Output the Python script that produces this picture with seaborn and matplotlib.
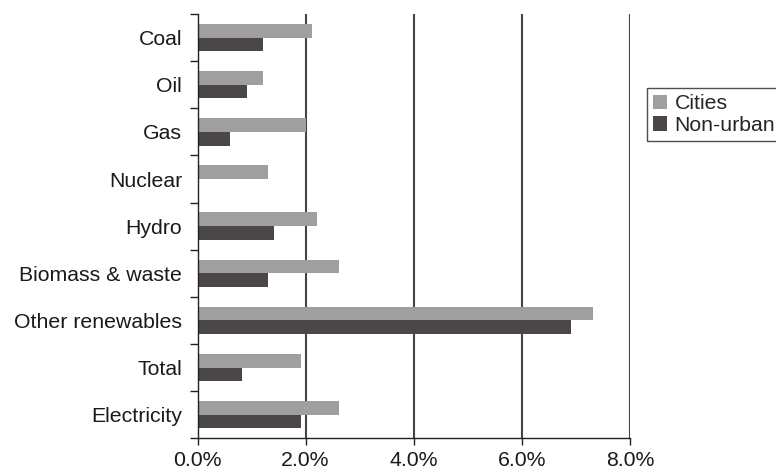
import matplotlib
matplotlib.use("Agg")
import matplotlib.pyplot as plt
import matplotlib.ticker as mticker
import seaborn as sns
import pandas as pd
import numpy as np

# Annual growth rates by energy source
categories = ["Coal", "Oil", "Gas", "Nuclear", "Hydro", "Biomass & waste",
              "Other renewables", "Total", "Electricity"]
cities = [2.12, 1.21, 2.00, 1.30, 2.21, 2.62, 7.31, 1.91, 2.62]
non_urban = [1.21, 0.92, 0.60, 0.0, 1.42, 1.30, 6.90, 0.82, 1.91]
series_names = ["Cities", "Non-urban"]
x_ticks = [0, 2, 4, 6, 8]

df = pd.DataFrame({
    "category": categories * 2,
    "growth": cities + non_urban,
    "series": [series_names[0]] * len(categories) + [series_names[1]] * len(categories),
})

sns.set_theme(style="white")
plt.rcParams["font.family"] = ["Liberation Sans", "DejaVu Sans"]

fig = plt.figure(figsize=(7.76, 4.71), dpi=100)
ax = fig.add_axes([197.5 / 776, 1 - 438.3 / 471, (630 - 197.5) / 776, (438.3 - 14) / 471])

palette = {"Cities": "#9f9f9f", "Non-urban": "#4b464a"}
sns.barplot(data=df, x="growth", y="category", hue="series", order=categories,
            hue_order=series_names, palette=palette, width=0.58, gap=0,
            saturation=1, orient="h", ax=ax, legend=False, linewidth=0)

ax.set_xlim(0, 8)
ax.set_ylim(len(categories) - 0.5, -0.5)
ax.set_xticks(x_ticks)
ax.xaxis.set_major_formatter(mticker.FuncFormatter(lambda v, p: f"{v:.1f}%"))
ax.set_xlabel("")
ax.set_ylabel("")

# vertical grid lines at the x ticks (not at zero)
for v in x_ticks[1:]:
    ax.axvline(v, color="#444444", linewidth=1.5, zorder=0)

for side in ["top", "right"]:
    ax.spines[side].set_visible(False)
for side in ["left", "bottom"]:
    ax.spines[side].set_visible(True)
    ax.spines[side].set_color("#222222")
    ax.spines[side].set_linewidth(1.0)

# category boundary ticks on the y axis, labels centred between them
ax.set_yticks(np.arange(-0.5, len(categories), 1.0), minor=True)
ax.tick_params(axis="y", which="minor", left=True, length=5.5, width=1.0, color="#222222")
ax.tick_params(axis="y", which="major", left=False, length=0, pad=11, labelsize=15.3,
               labelcolor="#1a1a1a")
ax.tick_params(axis="x", which="major", bottom=True, length=5, width=1.0, color="#222222",
               pad=4.5, labelsize=15.3, labelcolor="#1a1a1a")

handles = [plt.Rectangle((0, 0), 1, 1, facecolor=palette[s], edgecolor="none") for s in series_names]
leg = fig.legend(handles, series_names, loc="upper left",
                 bbox_to_anchor=(647 / 776, 1 - 88 / 471), frameon=True, fancybox=False,
                 fontsize=15.3, handlelength=0.65, handleheight=0.65, handletextpad=0.35,
                 labelspacing=0.12, borderpad=0.3, borderaxespad=0)
leg.get_frame().set_edgecolor("#222222")
leg.get_frame().set_linewidth(1.0)

fig.savefig("out.png", dpi=100)
